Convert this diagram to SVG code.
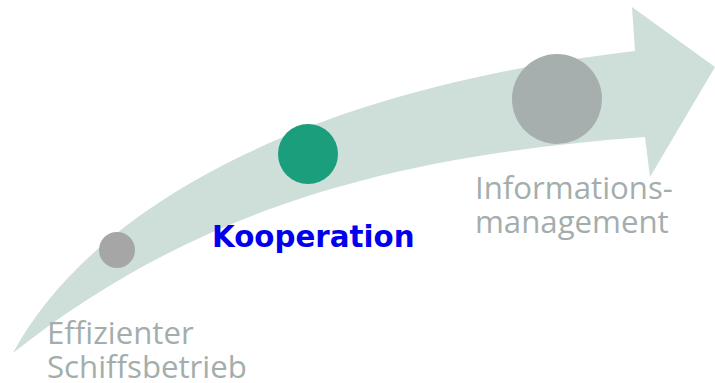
<svg xmlns="http://www.w3.org/2000/svg" width="715" height="383" viewBox="0 0 715 383">
<style>
.band{fill:#cddfd8}
.lbl{font-family:"Open Sans","Liberation Sans",sans-serif;font-size:31.2px;fill:#a3aeac}
.hl{font-family:"DejaVu Sans","Liberation Sans",sans-serif;font-size:29.3px;font-weight:bold;fill:#0000ee}
</style>
<g id="arrow">
<path class="band" d="M13,353 C90,210 300,90 635,51 L632,7 L715,67 L650,177 L645,137 C400,155 200,205 13,353 Z"/>
</g>
<g id="node-effizient">
<circle cx="117" cy="250" r="18" fill="#a6a6a6"/>
<text class="lbl" x="47" y="344">Effizienter</text>
<text class="lbl" x="47" y="378">Schiffsbetrieb</text>
</g>
<g id="node-kooperation">
<circle cx="308" cy="154" r="30" fill="#1a9e7c"/>
<text class="hl" x="212" y="247">Kooperation</text>
</g>
<g id="node-information">
<circle cx="557" cy="99" r="45" fill="#a6afad"/>
<text class="lbl" x="475" y="199">Informations-</text>
<text class="lbl" x="475" y="233">management</text>
</g>
<g id="connectors"></g>
</svg>
